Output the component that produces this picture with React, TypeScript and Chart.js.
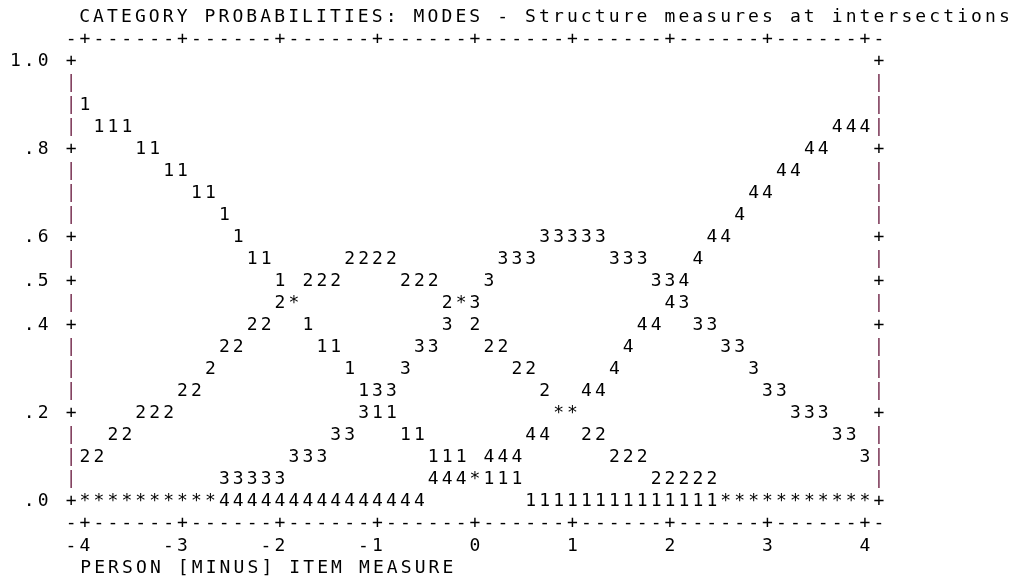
import { useEffect, useRef } from "react";
import { Chart, registerables } from "chart.js";

Chart.register(...registerables);

// ---------- text ----------
const TITLE = "CATEGORY PROBABILITIES: MODES - Structure measures at intersections";
const X_TITLE = "PERSON [MINUS] ITEM MEASURE";

// ---------- ticks ----------
const X_TICKS = [-4, -3, -2, -1, 0, 1, 2, 3, 4];
const X_TICK_LABELS = ["-4", "-3", "-2", "-1", "0", "1", "2", "3", "4"];
const Y_TICKS = [0.0, 0.2, 0.4, 0.5, 0.6, 0.8, 1.0];
const Y_TICK_LABELS = [".0", ".2", ".4", ".5", ".6", ".8", "1.0"];

// ---------- plotted characters: [measure, probability] ----------
const CATEGORY_1: [number, number][] = [
  [-4.0, 0.9],
  [-3.857, 0.85], [-3.714, 0.85], [-3.571, 0.85],
  [-3.429, 0.8], [-3.286, 0.8],
  [-3.143, 0.75], [-3.0, 0.75],
  [-2.857, 0.7], [-2.714, 0.7],
  [-2.571, 0.65],
  [-2.429, 0.6],
  [-2.286, 0.55], [-2.143, 0.55],
  [-2.0, 0.5],
  [-1.714, 0.4],
  [-1.571, 0.35], [-1.429, 0.35],
  [-1.286, 0.3],
  [-1.143, 0.25],
  [-1.0, 0.2], [-0.857, 0.2],
  [-0.714, 0.15], [-0.571, 0.15],
  [-0.429, 0.1], [-0.286, 0.1], [-0.143, 0.1],
  [0.143, 0.05], [0.286, 0.05], [0.429, 0.05],
  [0.571, 0], [0.714, 0], [0.857, 0], [1.0, 0], [1.143, 0], [1.286, 0], [1.429, 0],
  [1.571, 0], [1.714, 0], [1.857, 0], [2.0, 0], [2.143, 0], [2.286, 0], [2.429, 0],
];

const CATEGORY_2: [number, number][] = [
  [-1.286, 0.55], [-1.143, 0.55], [-1.0, 0.55], [-0.857, 0.55],
  [-1.714, 0.5], [-1.571, 0.5], [-1.429, 0.5], [-0.714, 0.5], [-0.571, 0.5], [-0.429, 0.5],
  [-2.0, 0.45], [-0.286, 0.45],
  [-2.286, 0.4], [-2.143, 0.4], [0.0, 0.4],
  [-2.571, 0.35], [-2.429, 0.35], [0.143, 0.35], [0.286, 0.35],
  [-2.714, 0.3], [0.429, 0.3], [0.571, 0.3],
  [-3.0, 0.25], [-2.857, 0.25], [0.714, 0.25],
  [-3.429, 0.2], [-3.286, 0.2], [-3.143, 0.2],
  [-3.714, 0.15], [-3.571, 0.15], [1.143, 0.15], [1.286, 0.15],
  [-4.0, 0.1], [-3.857, 0.1], [1.429, 0.1], [1.571, 0.1], [1.714, 0.1],
  [1.857, 0.05], [2.0, 0.05], [2.143, 0.05], [2.286, 0.05], [2.429, 0.05],
];

const CATEGORY_3: [number, number][] = [
  [0.714, 0.6], [0.857, 0.6], [1.0, 0.6], [1.143, 0.6], [1.286, 0.6],
  [0.286, 0.55], [0.429, 0.55], [0.571, 0.55], [1.429, 0.55], [1.571, 0.55], [1.714, 0.55],
  [0.143, 0.5], [1.857, 0.5], [2.0, 0.5],
  [0.0, 0.45], [2.143, 0.45],
  [-0.286, 0.4], [2.286, 0.4], [2.429, 0.4],
  [-0.571, 0.35], [-0.429, 0.35], [2.571, 0.35], [2.714, 0.35],
  [-0.714, 0.3], [2.857, 0.3],
  [-1.0, 0.25], [-0.857, 0.25], [3.0, 0.25], [3.143, 0.25],
  [-1.143, 0.2], [3.286, 0.2], [3.429, 0.2], [3.571, 0.2],
  [-1.429, 0.15], [-1.286, 0.15], [3.714, 0.15], [3.857, 0.15],
  [-1.857, 0.1], [-1.714, 0.1], [-1.571, 0.1], [4.0, 0.1],
  [-2.571, 0.05], [-2.429, 0.05], [-2.286, 0.05], [-2.143, 0.05], [-2.0, 0.05],
];

const CATEGORY_4: [number, number][] = [
  [3.714, 0.85], [3.857, 0.85], [4.0, 0.85],
  [3.429, 0.8], [3.571, 0.8],
  [3.143, 0.75], [3.286, 0.75],
  [2.857, 0.7], [3.0, 0.7],
  [2.714, 0.65],
  [2.429, 0.6], [2.571, 0.6],
  [2.286, 0.55],
  [2.143, 0.5],
  [2.0, 0.45],
  [1.714, 0.4], [1.857, 0.4],
  [1.571, 0.35],
  [1.429, 0.3],
  [1.143, 0.25], [1.286, 0.25],
  [0.571, 0.15], [0.714, 0.15],
  [0.143, 0.1], [0.286, 0.1], [0.429, 0.1],
  [-0.429, 0.05], [-0.286, 0.05], [-0.143, 0.05],
  [-2.571, 0], [-2.429, 0], [-2.286, 0], [-2.143, 0], [-2.0, 0], [-1.857, 0], [-1.714, 0], [-1.571, 0],
  [-1.429, 0], [-1.286, 0], [-1.143, 0], [-1.0, 0], [-0.857, 0], [-0.714, 0], [-0.571, 0],
];

// cells where two or more categories coincide
const OVERLAPS: [number, number][] = [
  [-1.857, 0.45], [-0.143, 0.45],
  [0.857, 0.2], [1.0, 0.2],
  [0.0, 0.05],
  [-4.0, 0], [-3.857, 0], [-3.714, 0], [-3.571, 0], [-3.429, 0], [-3.286, 0], [-3.143, 0], [-3.0, 0], [-2.857, 0], [-2.714, 0],
  [2.571, 0], [2.714, 0], [2.857, 0], [3.0, 0], [3.143, 0], [3.286, 0], [3.429, 0], [3.571, 0], [3.714, 0], [3.857, 0], [4.0, 0],
];

// ---------- style ----------
const FONT_FAMILY = "'DejaVu Sans Mono', 'Liberation Mono', monospace";
const FONT_SIZE = 18;
const LETTER_SPACING = "3.1px";
const TEXT_COLOR = "#000";
const PIPE_COLOR = "#7a3354";
const COLS_PER_UNIT = 7; // character columns per logit
const ROW_STEP = 0.05; // probability per character row
const GLYPH_DY = 0;

const font = { family: FONT_FAMILY, size: FONT_SIZE, weight: "normal" as const, lineHeight: 1.2 };

const asciiPlugin = {
  id: "asciiFrame",
  beforeLayout(chart: any) {
    chart.ctx.letterSpacing = LETTER_SPACING;
  },
  beforeDraw(chart: any) {
    chart.ctx.letterSpacing = LETTER_SPACING;
  },
  afterDraw(chart: any) {
    const ctx = chart.ctx as CanvasRenderingContext2D;
    const xs = chart.scales.x;
    const ys = chart.scales.y;
    ctx.save();
    (ctx as any).letterSpacing = "0px";
    ctx.font = `${FONT_SIZE}px ${FONT_FAMILY}`;
    ctx.textAlign = "center";
    ctx.textBaseline = "middle";

    const xFirst = X_TICKS[0];
    const xLast = X_TICKS[X_TICKS.length - 1];
    const nCols = (xLast - xFirst) * COLS_PER_UNIT; // 56
    const colX = (c: number) => xs.getPixelForValue(xFirst + (c - 1) / COLS_PER_UNIT);
    const rowY = (r: number) => ys.getPixelForValue(1 - r * ROW_STEP) + GLYPH_DY;
    const nRows = Math.round(1 / ROW_STEP); // 20

    // horizontal tick lines above and below the plot
    ctx.fillStyle = TEXT_COLOR;
    for (const r of [-1, nRows + 1]) {
      for (let c = 0; c <= nCols + 2; c++) {
        const isTick = c >= 1 && c <= nCols + 1 && (c - 1) % COLS_PER_UNIT === 0;
        ctx.fillText(isTick ? "+" : "-", colX(c), rowY(r));
      }
    }
    // vertical borders
    for (let r = 0; r <= nRows; r++) {
      const p = 1 - r * ROW_STEP;
      const isTick = Y_TICKS.some((t) => Math.abs(t - p) < 1e-6);
      for (const c of [0, nCols + 2]) {
        ctx.fillStyle = isTick ? TEXT_COLOR : PIPE_COLOR;
        ctx.fillText(isTick ? "+" : "|", colX(c), rowY(r));
      }
    }
    // plotted characters
    ctx.fillStyle = TEXT_COLOR;
    chart.data.datasets.forEach((ds: any, i: number) => {
      const meta = chart.getDatasetMeta(i);
      meta.data.forEach((el: any) => {
        ctx.fillText(ds.label, el.x, el.y + GLYPH_DY);
      });
    });
    ctx.restore();
  },
};

const toPoints = (arr: [number, number][]) => arr.map(([x, y]) => ({ x, y }));

export default function App() {
  const ref = useRef<HTMLCanvasElement | null>(null);

  useEffect(() => {
    if (!ref.current) return;
    const mk = (label: string, arr: [number, number][]) => ({
      label,
      data: toPoints(arr),
      pointRadius: 0,
      pointHoverRadius: 0,
      showLine: false,
    });
    const chart = new Chart(ref.current, {
      type: "scatter",
      data: {
        datasets: [
          mk("1", CATEGORY_1),
          mk("2", CATEGORY_2),
          mk("3", CATEGORY_3),
          mk("4", CATEGORY_4),
          mk("*", OVERLAPS),
        ],
      },
      options: {
        animation: false,
        responsive: false,
        events: [],
        layout: { padding: { left: 5, right: 20.1, top: 0, bottom: 0 } },
        plugins: {
          legend: { display: false },
          tooltip: { enabled: false },
          title: {
            display: true,
            text: TITLE,
            align: "end",
            fullSize: true,
            color: TEXT_COLOR,
            font,
            padding: { top: 6.9, bottom: 33.2 },
          },
        },
        scales: {
          x: {
            type: "linear",
            min: -4.0492,
            max: 5.5169,
            grid: { display: false, drawTicks: false },
            border: { display: false },
            afterBuildTicks: (s: any) => {
              s.ticks = X_TICKS.map((v) => ({ value: v }));
            },
            afterFit: (s: any) => {
              s.height = 78.3;
            },
            ticks: {
              autoSkip: false,
              maxRotation: 0,
              minRotation: 0,
              align: "end",
              labelOffset: 8.5,
              padding: 33.5,
              color: TEXT_COLOR,
              font,
              callback: (v: any) => X_TICK_LABELS[X_TICKS.indexOf(Number(v))] ?? "",
            },
            title: {
              display: true,
              text: X_TITLE,
              align: "start",
              color: TEXT_COLOR,
              font,
              padding: { top: 0, bottom: 1.2 },
            },
          },
          y: {
            type: "linear",
            min: 0,
            max: 1,
            grid: { display: false, drawTicks: false },
            border: { display: false },
            afterBuildTicks: (s: any) => {
              s.ticks = Y_TICKS.map((v) => ({ value: v }));
            },
            afterFit: (s: any) => {
              s.width = 75.2;
            },
            ticks: {
              autoSkip: false,
              padding: 28.5,
              color: TEXT_COLOR,
              font,
              callback: (v: any) => Y_TICK_LABELS[Y_TICKS.indexOf(Number(v))] ?? "",
            },
          },
        },
      } as any,
      plugins: [asciiPlugin],
    });
    return () => chart.destroy();
  }, []);

  return (
    <div style={{ position: "absolute", left: 0, top: 0, width: 1033, height: 580, background: "#fff" }}>
      <canvas ref={ref} width={1033} height={580} style={{ display: "block" }} />
    </div>
  );
}
